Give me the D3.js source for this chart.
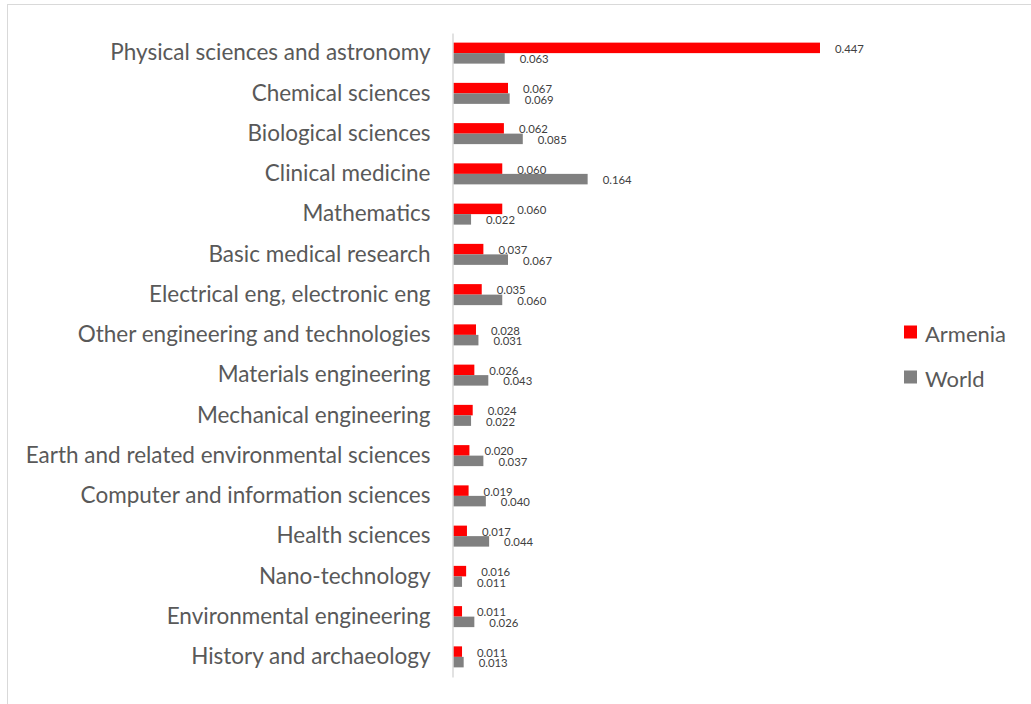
<!DOCTYPE html>
<html>
<head>
<meta charset="utf-8">
<script src="https://cdn.jsdelivr.net/npm/d3@7"></script>
<style>
  html, body { margin: 0; padding: 0; background: #fff; }
  svg { display: block; font-family: Lato, "Open Sans", sans-serif; }
</style>
</head>
<body>
<svg id="chart" width="1031" height="704"></svg>
<script>
// Research field shares, Armenia vs World
const categories = [
  "Physical sciences and astronomy",
  "Chemical sciences",
  "Biological sciences",
  "Clinical medicine",
  "Mathematics",
  "Basic medical research",
  "Electrical eng, electronic eng",
  "Other engineering and technologies",
  "Materials engineering",
  "Mechanical engineering",
  "Earth and related environmental sciences",
  "Computer and information sciences",
  "Health sciences",
  "Nano-technology",
  "Environmental engineering",
  "History and archaeology"
];
const armenia = [0.447, 0.067, 0.062, 0.060, 0.060, 0.037, 0.035, 0.028, 0.026, 0.024, 0.020, 0.019, 0.017, 0.016, 0.011, 0.011];
const world   = [0.063, 0.069, 0.085, 0.164, 0.022, 0.067, 0.060, 0.031, 0.043, 0.022, 0.037, 0.040, 0.044, 0.011, 0.026, 0.013];
const seriesNames = ["Armenia", "World"];
const seriesColors = ["#ff0000", "#808080"];

const svg = d3.select("#chart");
const FONT = "Lato, 'Open Sans', sans-serif";

// font size that makes a string span the given width
function fitSize(str, width) {
  const t = svg.append("text").attr("font-family", FONT).attr("font-size", 20).text(str);
  const w = t.node().getComputedTextLength();
  t.remove();
  return 20 * width / w;
}
const catSize = fitSize("Earth and related environmental sciences", 405);
const legSize = fitSize("Armenia", 81);
const valSize = fitSize("0.063", 29);

// outer frame
svg.append("rect")
  .attr("x", 7.5).attr("y", 4.5)
  .attr("width", 1040).attr("height", 720)
  .attr("fill", "none").attr("stroke", "#d9d9d9").attr("stroke-width", 1);

const x = d3.scaleLinear().domain([0, 0.5]).range([453, 863.5]);
const y = d3.scaleBand().domain(categories).range([33, 677])
  .paddingInner(0.478).paddingOuter(0.239);
const ys = d3.scaleBand().domain(seriesNames).range([0, y.bandwidth()]);

const rows = categories.map((c, i) => ({ c, vals: [armenia[i], world[i]] }));

const g = svg.append("g");

rows.forEach(r => {
  r.vals.forEach((v, k) => {
    const yy = y(r.c) + ys(seriesNames[k]);
    g.append("rect")
      .attr("x", x(0)).attr("y", yy)
      .attr("width", x(v) - x(0)).attr("height", ys.bandwidth())
      .attr("fill", seriesColors[k]);
    g.append("text")
      .attr("x", x(v) + 15).attr("y", yy + ys.bandwidth() / 2 + 0.5)
      .attr("dominant-baseline", "central")
      .attr("font-size", valSize).attr("fill", "#404040")
      .text(d3.format(".3f")(v));
  });
});

// vertical category axis
const axis = svg.append("g")
  .attr("transform", `translate(${x(0) - 0.5},0)`)
  .call(d3.axisLeft(y).tickSize(0).tickPadding(22));
axis.select(".domain").attr("stroke", "#d9d9d9").attr("stroke-width", 1.5);
axis.selectAll("text")
  .attr("font-family", FONT)
  .attr("font-size", catSize).attr("fill", "#595959");

// legend
const legend = svg.append("g");
seriesNames.forEach((n, k) => {
  const ly = 332 + k * 45;
  legend.append("rect")
    .attr("x", 904).attr("y", ly - 6.5).attr("width", 13).attr("height", 13)
    .attr("fill", seriesColors[k]);
  legend.append("text")
    .attr("x", 925).attr("y", ly + 1).attr("dominant-baseline", "central")
    .attr("font-size", legSize).attr("fill", "#595959").text(n);
});
</script>
</body>
</html>
